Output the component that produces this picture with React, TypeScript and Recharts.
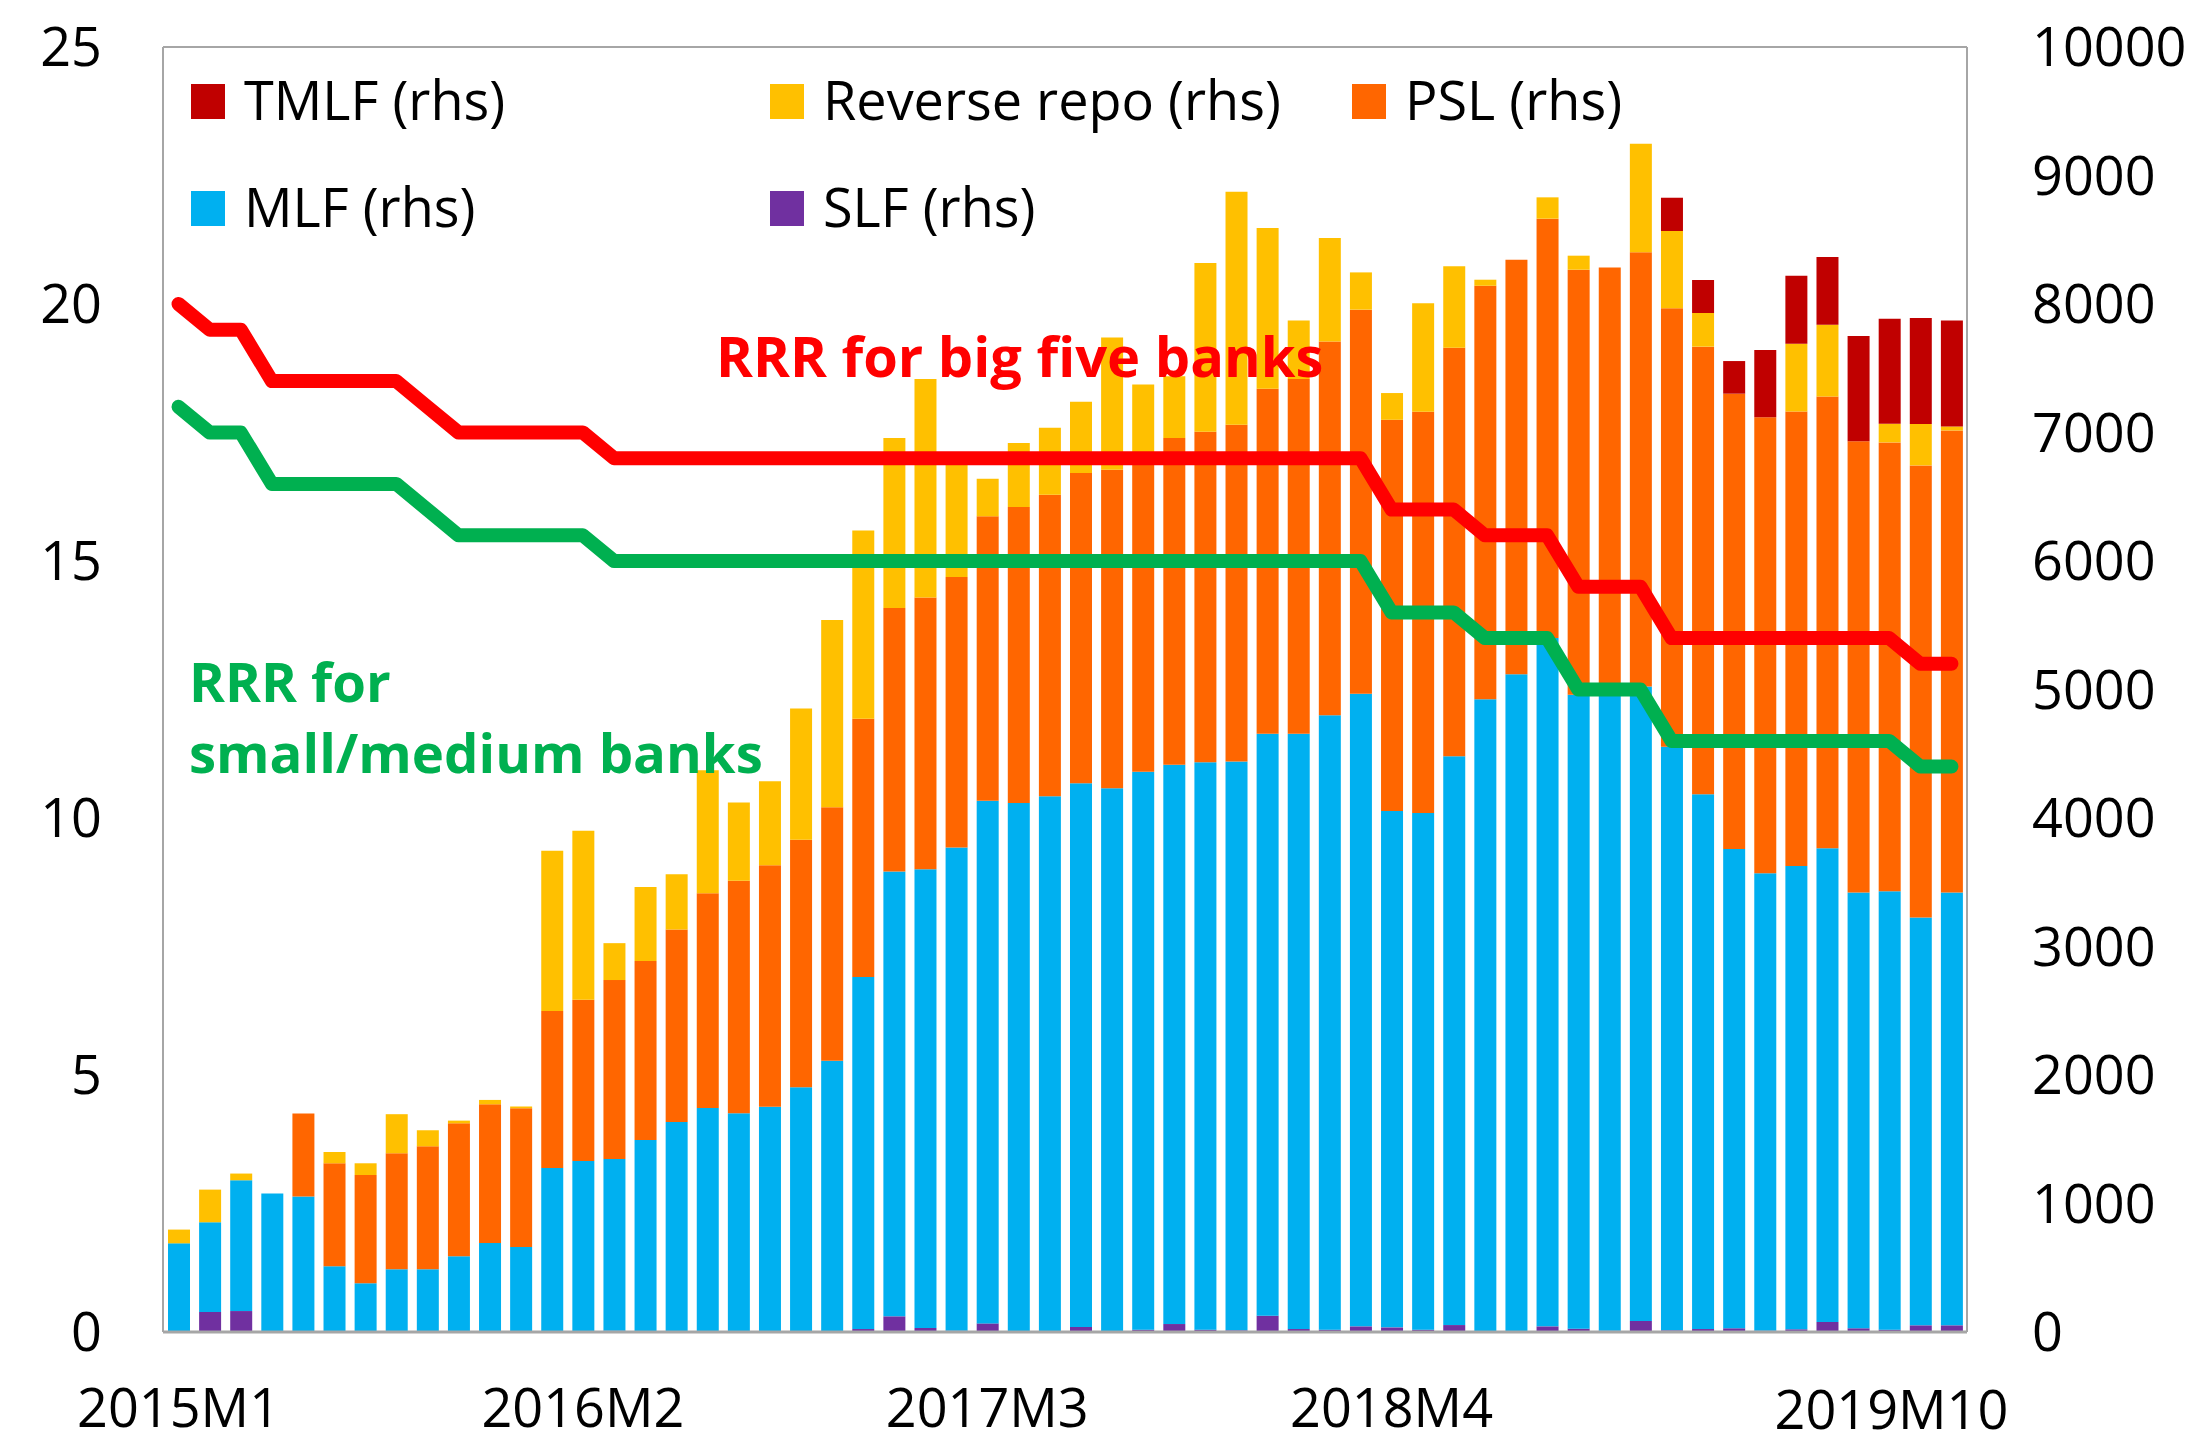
import React from "react";
import {
  ComposedChart,
  Bar,
  Line,
  XAxis,
  YAxis,
  ReferenceLine,
} from "recharts";

const FONT = "'Open Sans', 'Noto Sans', sans-serif";

// 2015M1 .. 2019M10
const months: string[] = [];
for (let y = 2015; y <= 2019; y++) {
  for (let m = 1; m <= 12; m++) {
    if (y === 2019 && m > 10) break;
    months.push(`${y}M${m}`);
  }
}

const xTicks = ["2015M1", "2016M2", "2017M3", "2018M4", "2019M10"];
const leftTicks = [0, 5, 10, 15, 20, 25];
const rightTicks = [0, 1000, 2000, 3000, 4000, 5000, 6000, 7000, 8000, 9000, 10000];

// facilities outstanding, rhs
const slf = [
  0, 156, 163, 0, 0, 0, 0, 0, 0, 0, 0, 0,
  0, 0, 10, 0, 0, 0, 0, 0, 0, 0,
  23, 122, 31, 10, 67, 0, 0, 39, 0, 18,
  62, 18, 13, 127, 23, 18, 44, 36, 18, 54,
  0, 0, 44, 26, 10, 86, 13, 23, 29, 10, 21, 78, 29, 18, 52, 52,
];
const mlf = [
  690, 698, 1018, 1077, 1054, 511, 379, 488, 488, 589, 693, 662,
  1276, 1331, 1336, 1494, 1635, 1744, 1702, 1752, 1904, 2110,
  2739, 3462, 3571, 3761, 4067, 4117, 4169, 4231, 4232, 4342,
  4353, 4416, 4426, 4528, 4632, 4781, 4922, 4018, 4020, 4426,
  4925, 5119, 5356, 4934, 4950, 4937, 4541, 4162, 3730, 3561, 3605, 3687, 3392, 3412, 3173, 3369,
];
const psl = [
  0, 0, 0, 0, 646, 802, 843, 903, 957, 1035, 1079, 1079,
  1222, 1255, 1393, 1393, 1497, 1671, 1810, 1881, 1926, 1974,
  2010, 2050, 2113, 2104, 2214, 2303, 2347, 2415, 2478, 2420,
  2542, 2572, 2622, 2686, 2761, 2910, 2990, 3045, 3124, 3180,
  3217, 3226, 3264, 3307, 3325, 3379, 3412, 3483, 3543, 3547, 3538, 3516, 3510, 3493, 3519, 3595,
];
const reverseRepo = [
  107, 254, 52, 0, 0, 88, 91, 304, 125, 21, 34, 13,
  1247, 1315, 287, 576, 430, 956, 608, 653, 1023, 1457,
  1465, 1323, 1702, 915, 292, 498, 521, 555, 1030, 594,
  480, 1313, 1813, 1250, 456, 804, 290, 208, 843, 633,
  47, 0, 166, 109, 0, 845, 602, 262, 0, 0, 527, 558, 0, 145, 322, 31,
];
const tmlf = [
  0, 0, 0, 0, 0, 0, 0, 0, 0, 0, 0, 0,
  0, 0, 0, 0, 0, 0, 0, 0, 0, 0,
  0, 0, 0, 0, 0, 0, 0, 0, 0, 0,
  0, 0, 0, 0, 0, 0, 0, 0, 0, 0,
  0, 0, 0, 0, 0, 0, 259, 257, 254, 524, 529, 527, 820, 818, 825, 825,
];

// reserve requirement ratios, lhs
const rrrBig = [
  20, 19.5, 19.5, 18.5, 18.5, 18.5, 18.5, 18.5, 18, 17.5, 17.5, 17.5,
  17.5, 17.5, 17, 17, 17, 17, 17, 17, 17, 17,
  17, 17, 17, 17, 17, 17, 17, 17, 17, 17,
  17, 17, 17, 17, 17, 17, 17, 16, 16, 16,
  15.5, 15.5, 15.5, 14.5, 14.5, 14.5, 13.5, 13.5, 13.5, 13.5, 13.5, 13.5, 13.5, 13.5, 13, 13,
];
const rrrSmall = [
  18, 17.5, 17.5, 16.5, 16.5, 16.5, 16.5, 16.5, 16, 15.5, 15.5, 15.5,
  15.5, 15.5, 15, 15, 15, 15, 15, 15, 15, 15,
  15, 15, 15, 15, 15, 15, 15, 15, 15, 15,
  15, 15, 15, 15, 15, 15, 15, 14, 14, 14,
  13.5, 13.5, 13.5, 12.5, 12.5, 12.5, 11.5, 11.5, 11.5, 11.5, 11.5, 11.5, 11.5, 11.5, 11, 11,
];

const rows = months.map((month, i) => ({
  month,
  slf: slf[i],
  mlf: mlf[i],
  psl: psl[i],
  rr: reverseRepo[i],
  tmlf: tmlf[i],
  big: rrrBig[i],
  small: rrrSmall[i],
}));

const COLORS = {
  tmlf: "#C00000",
  rr: "#FFC000",
  psl: "#FF6600",
  mlf: "#00B0F0",
  slf: "#7030A0",
  big: "#FF0000",
  small: "#00B050",
  axis: "#A6A6A6",
};

const legendItems = [
  { label: "TMLF (rhs)", color: COLORS.tmlf, x: 191, y: 101 },
  { label: "Reverse repo (rhs)", color: COLORS.rr, x: 770, y: 101 },
  { label: "PSL (rhs)", color: COLORS.psl, x: 1352, y: 101 },
  { label: "MLF (rhs)", color: COLORS.mlf, x: 191, y: 208 },
  { label: "SLF (rhs)", color: COLORS.slf, x: 770, y: 208 },
];

const LeftTick = (props: any) => {
  const { x, y, payload } = props;
  return (
    <text x={x - 61} y={y} dy="0.36em" textAnchor="end" fontSize={54} fontFamily={FONT} fill="#000">
      {payload.value}
    </text>
  );
};

const RightTick = (props: any) => {
  const { x, y, payload } = props;
  return (
    <text x={x + 65} y={y} dy="0.36em" textAnchor="start" fontSize={54} fontFamily={FONT} fill="#000">
      {payload.value}
    </text>
  );
};

const MonthTick = (props: any) => {
  const { x, y, payload } = props;
  const last = payload.value === "2019M10";
  return (
    <text
      x={last ? x - 60 : x}
      y={y + (last ? 97 : 95)}
      textAnchor="middle"
      fontSize={54}
      fontFamily={FONT}
      fill="#000"
    >
      {payload.value}
    </text>
  );
};

export default function App() {
  return (
    <div style={{ position: "absolute", left: 0, top: 0, width: 2192, height: 1445, background: "#fff" }}>
      <ComposedChart
        width={2192}
        height={1445}
        data={rows}
        margin={{ top: 47, right: 0, bottom: 0, left: 0 }}
        barSize={22}
      >
        <XAxis
          dataKey="month"
          ticks={xTicks}
          interval={0}
          height={113}
          tickSize={0}
          tickMargin={0}
          tickLine={false}
          tick={<MonthTick />}
          axisLine={{ stroke: COLORS.axis, strokeWidth: 3 }}
        />
        <YAxis
          yAxisId="left"
          orientation="left"
          domain={[0, 25]}
          ticks={leftTicks}
          width={163}
          tickSize={0}
          tickMargin={0}
          tickLine={false}
          tick={<LeftTick />}
          axisLine={{ stroke: COLORS.axis, strokeWidth: 2 }}
        />
        <YAxis
          yAxisId="right"
          orientation="right"
          domain={[0, 10000]}
          ticks={rightTicks}
          width={225}
          tickSize={0}
          tickMargin={0}
          tickLine={false}
          tick={<RightTick />}
          axisLine={{ stroke: COLORS.axis, strokeWidth: 2 }}
        />
        <ReferenceLine yAxisId="left" y={25} stroke={COLORS.axis} strokeWidth={2} />

        <Bar yAxisId="right" dataKey="slf" stackId="a" fill={COLORS.slf} isAnimationActive={false} />
        <Bar yAxisId="right" dataKey="mlf" stackId="a" fill={COLORS.mlf} isAnimationActive={false} />
        <Bar yAxisId="right" dataKey="psl" stackId="a" fill={COLORS.psl} isAnimationActive={false} />
        <Bar yAxisId="right" dataKey="rr" stackId="a" fill={COLORS.rr} isAnimationActive={false} />
        <Bar yAxisId="right" dataKey="tmlf" stackId="a" fill={COLORS.tmlf} isAnimationActive={false} />

        <Line
          yAxisId="left"
          type="linear"
          dataKey="small"
          stroke={COLORS.small}
          strokeWidth={14}
          strokeLinecap="round"
          strokeLinejoin="round"
          dot={false}
          activeDot={false}
          isAnimationActive={false}
        />
        <Line
          yAxisId="left"
          type="linear"
          dataKey="big"
          stroke={COLORS.big}
          strokeWidth={14}
          strokeLinecap="round"
          strokeLinejoin="round"
          dot={false}
          activeDot={false}
          isAnimationActive={false}
        />
      </ComposedChart>

      {/* legend and the two line labels sit on top of the plot */}
      <svg
        width={2192}
        height={1445}
        style={{ position: "absolute", left: 0, top: 0, pointerEvents: "none" }}
        fontFamily={FONT}
      >
        {legendItems.map((it) => (
          <g key={it.label}>
            <rect x={it.x} y={it.y - 17} width={34} height={35} fill={it.color} />
            <text x={it.x + 53} y={it.y} dy="0.36em" fontSize={54} fill="#000">
              {it.label}
            </text>
          </g>
        ))}
        <text x={716} y={377} fontSize={56} fontWeight={700} fill={COLORS.big}>
          RRR for big five banks
        </text>
        <text x={189} y={702} fontSize={54.5} fontWeight={700} fill={COLORS.small}>
          RRR for
        </text>
        <text x={189} y={773} fontSize={54.5} fontWeight={700} fill={COLORS.small}>
          small/medium banks
        </text>
      </svg>
    </div>
  );
}
